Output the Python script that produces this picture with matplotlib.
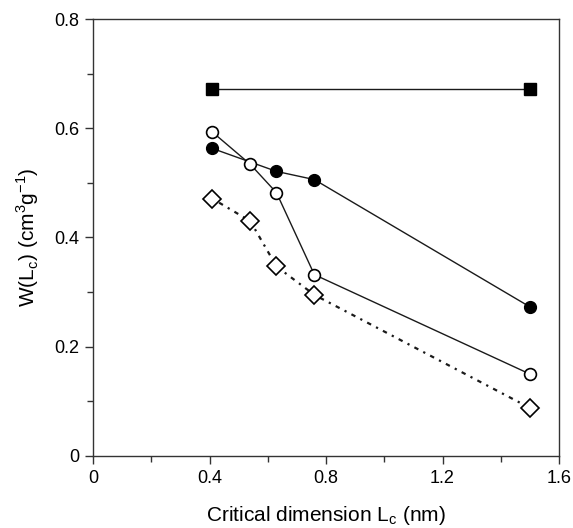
import matplotlib
matplotlib.use("Agg")
import matplotlib.pyplot as plt
from matplotlib.ticker import MultipleLocator, FuncFormatter

plt.rcParams['font.family'] = ['Liberation Sans', 'DejaVu Sans']

# Data
x_square = [0.41, 1.50]
y_square = [0.671, 0.671]

x_filled = [0.41, 0.63, 0.76, 1.50]
y_filled = [0.563, 0.521, 0.506, 0.273]

x_open = [0.41, 0.54, 0.63, 0.76, 1.50]
y_open = [0.593, 0.534, 0.482, 0.332, 0.150]

x_diam = [0.41, 0.54, 0.63, 0.76, 1.50]
y_diam = [0.471, 0.430, 0.347, 0.295, 0.088]

fig = plt.figure(figsize=(5.73, 5.28), dpi=100)
ax = fig.add_axes([0.1623, 0.1364, 0.8133, 0.8276])

lc = '#1a1a1a'
ax.plot(x_square, y_square, '-', color=lc, lw=1.0, marker='s', ms=8.5,
        mfc='black', mec='black', zorder=3)
ax.plot(x_filled, y_filled, '-', color=lc, lw=1.0, marker='o', ms=8.5,
        mfc='black', mec='black', zorder=3)
ax.plot(x_open, y_open, '-', color=lc, lw=1.0, marker='o', ms=8.5,
        mfc='white', mec='black', mew=1.2, zorder=4)
ax.plot(x_diam, y_diam, color=lc, lw=1.6, ls=(0, (1, 2.5, 2, 2.5)), marker='D', ms=9,
        mfc='white', mec='black', mew=1.2, zorder=3)

ax.set_xlim(0, 1.6)
ax.set_ylim(0, 0.8)
ax.xaxis.set_major_locator(MultipleLocator(0.4))
ax.xaxis.set_minor_locator(MultipleLocator(0.2))
ax.yaxis.set_major_locator(MultipleLocator(0.2))
ax.yaxis.set_minor_locator(MultipleLocator(0.1))

def fmt(v, pos):
    if abs(v) < 1e-9:
        return '0'
    return f'{v:.1f}'
ax.xaxis.set_major_formatter(FuncFormatter(fmt))
ax.yaxis.set_major_formatter(FuncFormatter(fmt))

ax.tick_params(which='major', direction='out', length=6, width=1, labelsize=13, color='#333333', pad=4)
ax.tick_params(which='minor', direction='out', length=4, width=1, color='#333333')
for s in ax.spines.values():
    s.set_color('#333333')
    s.set_linewidth(1.0)

ax.set_xlabel('Critical dimension L$_\\mathregular{c}$ (nm)', fontsize=15, labelpad=12)
ax.set_ylabel('W(L$_\\mathregular{c}$) (cm$^\\mathregular{3}$g$^\\mathregular{-1}$)', fontsize=15, labelpad=9)

fig.savefig('out.png', dpi=100)
